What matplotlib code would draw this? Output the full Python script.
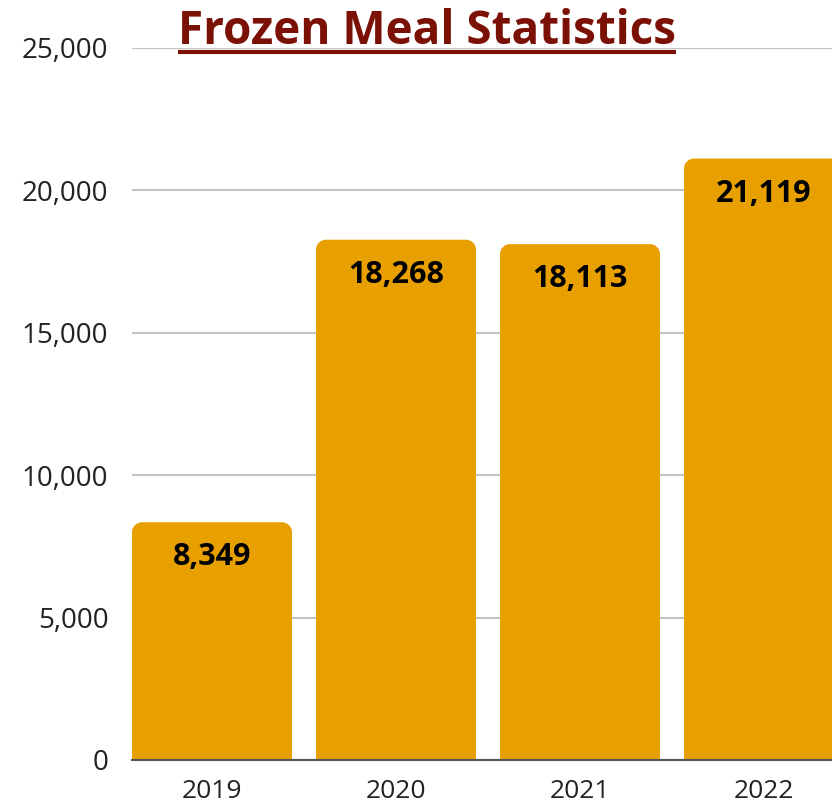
import matplotlib.pyplot as plt
from matplotlib.path import Path
from matplotlib.patches import PathPatch
from matplotlib.lines import Line2D

# Data
years = ['2019', '2020', '2021', '2022']
meals = [8349, 18268, 18113, 21119]
y_ticks = [0, 5000, 10000, 15000, 20000, 25000]

bar_color = '#E8A000'
title_color = '#7B1005'

fig = plt.figure(figsize=(8.32, 8.06), dpi=100)
ax = fig.add_axes([132 / 832, 46 / 806, 700 / 832, 712 / 806])

x = range(len(years))
bar_w = 160 / 184
bars = ax.bar(x, meals, width=bar_w, color=bar_color, zorder=2)

ax.set_xlim(-bar_w / 2, 3 + (832 - 764) / 184)
ax.set_ylim(0, 25000)

# rounded top corners: swap each rectangle for a path
rx = 10 / 184
ry = 10 * 25000 / 712
k = 0.55
for b in bars:
    x0, y0 = b.get_x(), b.get_y()
    x1, y1 = x0 + b.get_width(), y0 + b.get_height()
    verts = [
        (x0, y0), (x0, y1 - ry),
        (x0, y1 - ry + k * ry), (x0 + rx - k * rx, y1), (x0 + rx, y1),
        (x1 - rx, y1),
        (x1 - rx + k * rx, y1), (x1, y1 - ry + k * ry), (x1, y1 - ry),
        (x1, y0), (x0, y0),
    ]
    codes = [Path.MOVETO, Path.LINETO,
             Path.CURVE4, Path.CURVE4, Path.CURVE4,
             Path.LINETO,
             Path.CURVE4, Path.CURVE4, Path.CURVE4,
             Path.LINETO, Path.CLOSEPOLY]
    patch = PathPatch(Path(verts, codes), facecolor=bar_color, edgecolor='none', zorder=2)
    b.set_visible(False)
    ax.add_patch(patch)

# value labels inside the bars
for xi, v in zip(x, meals):
    ax.annotate(f'{v:,}', (xi, v), xytext=(0, -35), textcoords='offset pixels',
                ha='center', va='center', fontsize=22, fontweight='bold',
                family='Open Sans', color='black', zorder=3)

ax.set_xticks(list(x))
ax.set_xticklabels(years, fontsize=19)
ax.set_yticks(y_ticks)
ax.set_yticklabels([f'{t:,}' for t in y_ticks], fontsize=20)
ax.tick_params(axis='both', length=0, colors='#222222')
ax.tick_params(axis='y', pad=17)
ax.tick_params(axis='x', pad=14)
for lbl in ax.get_xticklabels() + ax.get_yticklabels():
    lbl.set_family('Open Sans')

ax.yaxis.grid(True, color='#c4c4c4', linewidth=1.5, zorder=0)
ax.set_axisbelow(True)
for s in ['top', 'right', 'left']:
    ax.spines[s].set_visible(False)
ax.spines['bottom'].set_color('#555555')
ax.spines['bottom'].set_linewidth(1.5)
ax.spines['bottom'].set_zorder(3)

# title with underline
title = fig.text(427 / 832, 1 - 31 / 806, 'Frozen Meal Statistics', ha='center', va='center',
                 fontsize=33, fontweight='bold', family='Open Sans', color=title_color)
fig.canvas.draw()
bb = title.get_window_extent()
uy = 1 - 51.5 / 806
fig.add_artist(Line2D([bb.x0 / 832, bb.x1 / 832], [uy, uy], color=title_color,
                      linewidth=3, transform=fig.transFigure, solid_capstyle='butt'))

plt.savefig('out.png', dpi=100)
